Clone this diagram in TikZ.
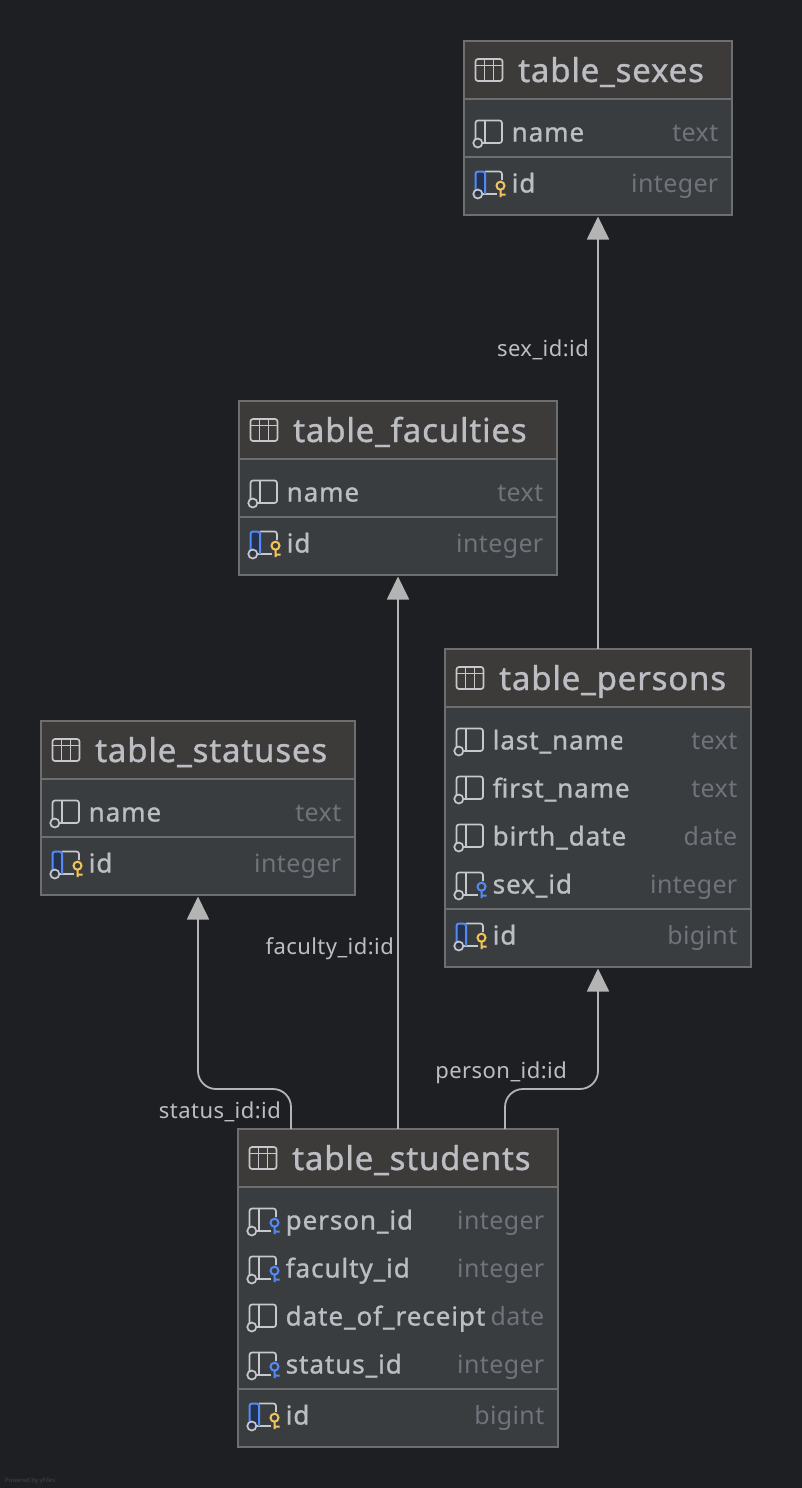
\documentclass[tikz,border=0pt]{standalone}
\usepackage{fontspec}
\usepackage{xcolor}
\usetikzlibrary{arrows.meta,calc}
\setmainfont{Noto Sans}
\newfontfamily\titlefont[LetterSpace=2.5,FakeBold=1]{Noto Sans}
\newfontfamily\namefont[LetterSpace=3.6,FakeBold=1]{Noto Sans}
\newfontfamily\typefont[LetterSpace=1.5]{Noto Sans}
\newfontfamily\labelfont[LetterSpace=2]{Noto Sans}

\definecolor{pagebg}{HTML}{1E1F22}
\definecolor{bodybg}{HTML}{3A3D40}
\definecolor{headbg}{HTML}{3C3B3A}
\definecolor{edgecol}{HTML}{6C6E70}
\definecolor{textcol}{HTML}{BCBEC4}
\definecolor{typecol}{HTML}{6F737A}
\definecolor{iconcol}{HTML}{C6C8CD}
\definecolor{connectcol}{HTML}{B4B4B4}
\definecolor{pkblue}{HTML}{548AF7}
\definecolor{pkfill}{HTML}{25324D}
\definecolor{keygold}{HTML}{F2C55C}

\tikzset{
  tablebody/.style={rectangle,draw=edgecol,line width=1.2pt,fill=bodybg,inner sep=0pt,outer sep=0pt,anchor=north west},
  rowline/.style={draw=edgecol,line width=1.6pt},
  tabletitle/.style={anchor=base west,inner sep=0pt,text=textcol,font=\titlefont\fontsize{33}{38}\selectfont},
  fieldname/.style={anchor=base west,inner sep=0pt,text=textcol,font=\namefont\fontsize{26}{30}\selectfont},
  fieldtype/.style={anchor=base east,inner sep=0pt,text=typecol,font=\typefont\fontsize{25}{30}\selectfont},
  linklabel/.style={anchor=base east,inner sep=0pt,text=textcol,font=\labelfont\fontsize{22}{26}\selectfont},
  conn/.style={draw=connectcol,line width=1.8pt,shorten >=1.5pt,-{Triangle[width=22pt,length=23pt]}},
  iconline/.style={draw=iconcol,line width=1.7pt},
  tableicon/.pic={
    \draw[iconline,rounded corners=2.5pt] (0,-11) rectangle (27,11);
    \draw[iconline] (0,-4.5) -- (27,-4.5) (9,-11) -- (9,11) (18,-11) -- (18,11);
  },
  colicon/.pic={
    \draw[iconline,rounded corners=2.5pt] (0,7) -- (0,-11.5) -- (26.5,-11.5) -- (26.5,11) -- (7,11);
    \draw[iconline] (9.5,-11.5) -- (9.5,11);
    \draw[iconline] (2.3,11) circle (4.5);
  },
  fkicon/.pic={
    \draw[iconline,rounded corners=2.5pt] (0,7) -- (0,-11.5) -- (26.5,-11.5) -- (26.5,-3);
    \draw[iconline] (9.5,-11.5) -- (9.5,11) (7,11) -- (21,11);
    \draw[iconline] (2.3,11) circle (4.5);
    \draw[draw=pkblue,line width=2pt] (25,2.7) circle (4) (25,6.7) -- (25,14) (25,11.5) -- (30,11.5);
  },
  pkicon/.pic={
    \fill[pkfill] (0,11) -- (0,-11.5) -- (9.5,-11.5) -- (9.5,11) -- cycle;
    \draw[iconline,rounded corners=2.5pt] (9.5,-11.5) -- (26.5,-11.5) -- (26.5,-3);
    \draw[iconline] (7,11) -- (21,11);
    \draw[draw=pkblue,line width=2pt,rounded corners=2.5pt] (0,7) -- (0,-11.5) -- (9.5,-11.5) -- (9.5,11);
    \draw[iconline] (2.3,11) circle (4.5);
    \draw[draw=keygold,line width=2pt] (25,2.7) circle (4) (25,6.7) -- (25,14) (25,11.5) -- (30,11.5);
  }
}

% box, head band, title
\newcommand{\dbtable}[6]{
  \node[tablebody,minimum width=#4pt,minimum height=#5pt] (#1) at (#2,#3) {};
  \fill[headbg] ([shift={(1,1)}]#1.north west) rectangle ([shift={(-1,58)}]#1.north east);
  \draw[rowline] ([yshift=-58pt]#1.north west) -- ([yshift=-58pt]#1.north east);
  \pic at ([shift={(11.5,29)}]#1.north west) {tableicon};
  \node[tabletitle] (#1-title) at ([shift={(54,41)}]#1.north west) {#6};
}
% table, row key, row centre, icon, text, type, text width
\newcommand{\dbfield}[7]{
  \pic at ([shift={(11.5,#3)}]#1.north west) {#4};
  \begin{scope}
    \clip ([shift={(40,#3-20)}]#1.north west) rectangle ++(8+#7,40);
    \node[fieldname] (#1-#2) at ([shift={(47.5,#3+9.5)}]#1.north west) {#5};
  \end{scope}
  \node[fieldtype] (#1-#2-type) at ([shift={(-13.5,#3+9.5)}]#1.north east) {#6};
}

\begin{document}
\begin{tikzpicture}[x=1pt,y=-1pt]
  \fill[pagebg] (0,0) rectangle (802,1488);
  \useasboundingbox (0,0) rectangle (802,1488);

  \dbtable{sexes}{464}{41}{268}{174}{table\_sexes}
  \dbfield{sexes}{name}{91}{colicon}{name}{text}{200}
  \draw[rowline] ([yshift=-116pt]sexes.north west) -- ([yshift=-116pt]sexes.north east);
  \dbfield{sexes}{id}{142}{pkicon}{id}{integer}{200}

  \dbtable{faculties}{239}{401}{318}{174}{table\_faculties}
  \dbfield{faculties}{name}{91}{colicon}{name}{text}{200}
  \draw[rowline] ([yshift=-116pt]faculties.north west) -- ([yshift=-116pt]faculties.north east);
  \dbfield{faculties}{id}{142}{pkicon}{id}{integer}{200}

  \dbtable{statuses}{41}{721}{314}{174}{table\_statuses}
  \dbfield{statuses}{name}{91}{colicon}{name}{text}{200}
  \draw[rowline] ([yshift=-116pt]statuses.north west) -- ([yshift=-116pt]statuses.north east);
  \dbfield{statuses}{id}{142}{pkicon}{id}{integer}{200}

  \dbtable{persons}{445}{649}{306}{318}{table\_persons}
  \dbfield{persons}{lastname}{91}{colicon}{last\_name}{text}{129}
  \dbfield{persons}{firstname}{139}{colicon}{first\_name}{text}{200}
  \dbfield{persons}{birthdate}{187}{colicon}{birth\_date}{date}{200}
  \dbfield{persons}{sexid}{235}{fkicon}{sex\_id}{integer}{200}
  \draw[rowline] ([yshift=-260pt]persons.north west) -- ([yshift=-260pt]persons.north east);
  \dbfield{persons}{id}{286}{pkicon}{id}{bigint}{200}

  \dbtable{students}{238}{1129}{320}{318}{table\_students}
  \dbfield{students}{personid}{91}{fkicon}{person\_id}{integer}{200}
  \dbfield{students}{facultyid}{139}{fkicon}{faculty\_id}{integer}{200}
  \dbfield{students}{receipt}{187}{colicon}{date\_of\_receipt}{date}{200}
  \dbfield{students}{statusid}{235}{fkicon}{status\_id}{integer}{200}
  \draw[rowline] ([yshift=-260pt]students.north west) -- ([yshift=-260pt]students.north east);
  \dbfield{students}{id}{286}{pkicon}{id}{bigint}{200}

  % links between tables
  \coordinate (statusport) at ([xshift=53pt]students.north west);
  \coordinate (personport) at ([xshift=267pt]students.north west);
  \draw[conn] (persons.north) -- (sexes.south);
  \draw[conn] (students.north) -- (faculties.south);
  \draw[conn,rounded corners=18pt] (statusport) -- ++(0,-40) -| (statuses.south);
  \draw[conn,rounded corners=18pt] (personport) -- ++(0,-40) -| (persons.south);

  \node[linklabel] (sexlabel) at (589,356) {sex\_id:id};
  \node[linklabel] (facultylabel) at (394,954) {faculty\_id:id};
  \node[linklabel] (statuslabel) at (281,1118) {status\_id:id};
  \node[linklabel] (personlabel) at (567,1078) {person\_id:id};

  \node[anchor=base west,inner sep=0pt,text=edgecol!50!pagebg,font=\fontsize{6}{7}\selectfont] (poweredby) at (5,1482) {Powered by yFiles};
\end{tikzpicture}
\end{document}
